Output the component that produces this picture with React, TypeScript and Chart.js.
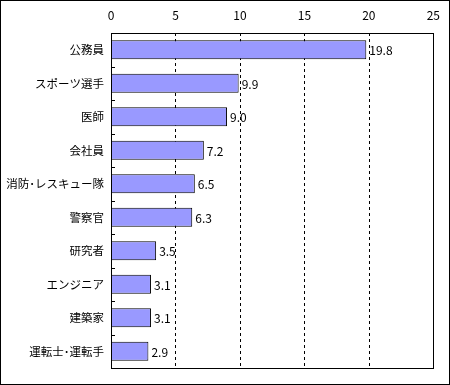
import React, { useEffect, useRef } from "react";
import { Chart, registerables } from "chart.js";

Chart.register(...registerables);

const categories = ["公務員", "スポーツ選手", "医師", "会社員", "消防･レスキュー隊", "警察官", "研究者", "エンジニア", "建築家", "運転士･運転手"];
const values = [19.8, 9.9, 9.0, 7.2, 6.5, 6.3, 3.5, 3.1, 3.1, 2.9];
const xTicks = [0, 5, 10, 15, 20, 25];

const FONT = "'Noto Sans CJK JP', 'DejaVu Sans', sans-serif";

const extras = {
  id: "extras",
  beforeDatasetsDraw(chart: any) {
    const { ctx, chartArea, scales } = chart;
    const x = scales.x;
    ctx.save();
    ctx.strokeStyle = "#000";
    ctx.lineWidth = 1;
    ctx.setLineDash([3, 3]);
    xTicks.slice(1, -1).forEach((v) => {
      const px = Math.round(x.getPixelForValue(v)) + 0.5;
      ctx.beginPath();
      ctx.moveTo(px, chartArea.top);
      ctx.lineTo(px, chartArea.bottom);
      ctx.stroke();
    });
    ctx.restore();
  },
  afterDatasetsDraw(chart: any) {
    const { ctx, chartArea, scales } = chart;
    const y = scales.y;
    ctx.save();
    ctx.strokeStyle = "#000";
    ctx.lineWidth = 1;
    for (let i = 1; i < categories.length; i++) {
      const py = Math.round((y.getPixelForValue(i - 1) + y.getPixelForValue(i)) / 2) + 0.5;
      ctx.beginPath();
      ctx.moveTo(chartArea.left, py);
      ctx.lineTo(chartArea.left + 4, py);
      ctx.stroke();
    }
    ctx.strokeRect(Math.round(chartArea.left) + 0.5, Math.round(chartArea.top) + 0.5, Math.round(chartArea.right - chartArea.left), Math.round(chartArea.bottom - chartArea.top));
    ctx.fillStyle = "#000";
    ctx.font = "12px " + FONT;
    ctx.textBaseline = "middle";
    ctx.textAlign = "left";
    const meta = chart.getDatasetMeta(0);
    meta.data.forEach((bar: any, i: number) => {
      ctx.fillText(values[i].toFixed(1), bar.x + 3, bar.y + 1);
    });
    ctx.strokeRect(0.5, 0.5, chart.width - 1, chart.height - 1);
    ctx.restore();
  },
};

export default function App() {
  const ref = useRef<HTMLCanvasElement>(null);
  useEffect(() => {
    document.body.style.margin = "0";
    const chart = new Chart(ref.current!, {
      type: "bar",
      data: {
        labels: categories,
        datasets: [
          {
            data: values,
            backgroundColor: "#9999FF",
            borderColor: "#000",
            borderWidth: 1,
            barPercentage: 0.57,
            categoryPercentage: 1,
          },
        ],
      },
      options: {
        indexAxis: "y",
        animation: false,
        responsive: false,
        maintainAspectRatio: false,
        layout: { padding: { left: 0, right: 14, top: 0, bottom: 17 } },
        plugins: { legend: { display: false }, tooltip: { enabled: false } },
        scales: {
          x: {
            position: "top",
            min: 0,
            max: 25,
            afterBuildTicks: (s: any) => {
              s.ticks = xTicks.map((v) => ({ value: v }));
            },
            afterFit: (s: any) => {
              s.height = 33;
            },
            border: { display: false },
            grid: { display: false, drawTicks: false },
            ticks: { color: "#000", font: { size: 12, family: FONT }, padding: 10 },
          },
          y: {
            afterFit: (s: any) => {
              s.width = 111;
            },
            border: { display: false },
            grid: { display: false, drawTicks: false },
            ticks: { color: "#000", font: { size: 11.5, family: FONT }, padding: 7 },
          },
        },
      } as any,
      plugins: [extras],
    });
    return () => chart.destroy();
  }, []);
  return (
    <div style={{ position: "fixed", left: 0, top: 0, width: 450, height: 385 }}>
      <canvas ref={ref} width={450} height={385} />
    </div>
  );
}
